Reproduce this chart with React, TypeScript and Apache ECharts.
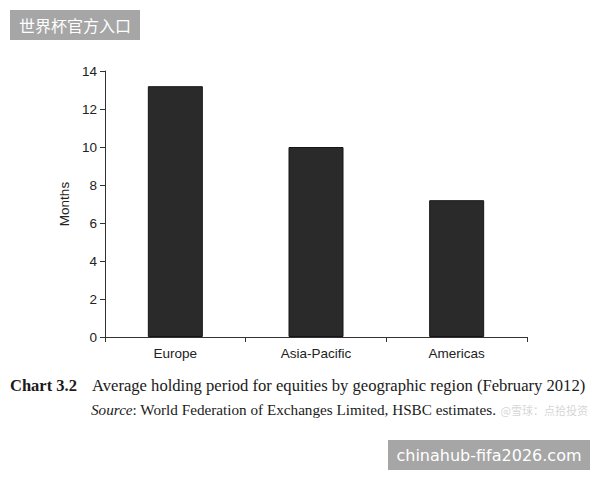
import React, { useEffect, useRef } from "react";
import * as echarts from "echarts";

const categories = ["Europe", "Asia-Pacific", "Americas"];
const months = [13.2, 10.0, 7.2];
const yTicks = [0, 2, 4, 6, 8, 10, 12, 14];
const captionLabel = "Chart 3.2";
const captionTitle = "Average holding period for equities by geographic region (February 2012)";
const sourceLabel = "Source";
const sourceText = ": World Federation of Exchanges Limited, HSBC estimates.";
const topBadge = "世界杯官方入口";
const bottomBadge = "chinahub-fifa2026.com";
const faintMark = "@雪球：点拾投资";

export default function App() {
  const ref = useRef<HTMLDivElement>(null);
  useEffect(() => {
    const chart = echarts.init(ref.current!, null, { renderer: "svg" });
    chart.setOption({
      animation: false,
      backgroundColor: "#ffffff",
      grid: { left: 105, right: 73, top: 71, bottom: 143 },
      xAxis: {
        type: "category",
        data: categories,
        axisLine: { show: true, lineStyle: { color: "#333", width: 1 } },
        axisTick: { show: true, length: 5, lineStyle: { color: "#333" } },
        axisLabel: { color: "#222", fontSize: 13.5, fontFamily: "Liberation Sans, Arial", margin: 9 },
      },
      yAxis: {
        type: "value",
        min: yTicks[0],
        max: yTicks[yTicks.length - 1],
        interval: 2,
        name: "Months",
        nameLocation: "middle",
        nameGap: 30,
        nameTextStyle: { color: "#222", fontSize: 13.5, fontFamily: "Liberation Sans, Arial" },
        splitLine: { show: false },
        axisLine: { show: true, lineStyle: { color: "#333", width: 1 } },
        axisTick: { show: true, length: 5, lineStyle: { color: "#333" } },
        axisLabel: { color: "#222", fontSize: 13.5, fontFamily: "Liberation Sans, Arial", margin: 8 },
      },
      series: [
        {
          type: "bar",
          data: months,
          barWidth: 55,
          itemStyle: { color: "#2a2a2a", borderColor: "#151515", borderWidth: 1 },
        },
      ],
      graphic: [
        { type: "rect", shape: { x: 10, y: 10, width: 130, height: 30 }, style: { fill: "#a6a6a6" } },
        {
          type: "text", x: 75, y: 25,
          style: { text: topBadge, fill: "#ffffff", fontSize: 16, fontFamily: "Noto Sans CJK SC", align: "center", verticalAlign: "middle" },
        },
        {
          type: "text", x: 10, y: 385,
          style: { text: captionLabel, fill: "#1a1a1a", fontSize: 16.5, fontWeight: "bold", fontFamily: "Liberation Serif, serif", verticalAlign: "middle" },
        },
        {
          type: "text", x: 92, y: 385,
          style: { text: captionTitle, fill: "#1a1a1a", fontSize: 16.6, fontFamily: "Liberation Serif, serif", verticalAlign: "middle" },
        },
        {
          type: "text", x: 91, y: 409,
          style: {
            text: "{i|" + sourceLabel + "}{n|" + sourceText + "}",
            verticalAlign: "middle",
            rich: {
              i: { fill: "#1a1a1a", fontSize: 15.2, fontStyle: "italic", fontFamily: "Liberation Serif, serif" },
              n: { fill: "#1a1a1a", fontSize: 15.2, fontFamily: "Liberation Serif, serif" },
            },
          },
        },
        {
          type: "text", x: 588, y: 410,
          style: { text: faintMark, fill: "rgba(185,185,185,0.6)", fontSize: 11, fontFamily: "Noto Sans CJK SC", align: "right", verticalAlign: "middle" },
        },
        { type: "rect", shape: { x: 388, y: 440, width: 202, height: 30 }, style: { fill: "#a6a6a6" } },
        {
          type: "text", x: 489, y: 455,
          style: { text: bottomBadge, fill: "#ffffff", fontSize: 16, fontFamily: "DejaVu Sans", align: "center", verticalAlign: "middle" },
        },
      ],
    });
    return () => chart.dispose();
  }, []);
  return <div ref={ref} style={{ width: 600, height: 480, position: "absolute", left: 0, top: 0 }} />;
}
